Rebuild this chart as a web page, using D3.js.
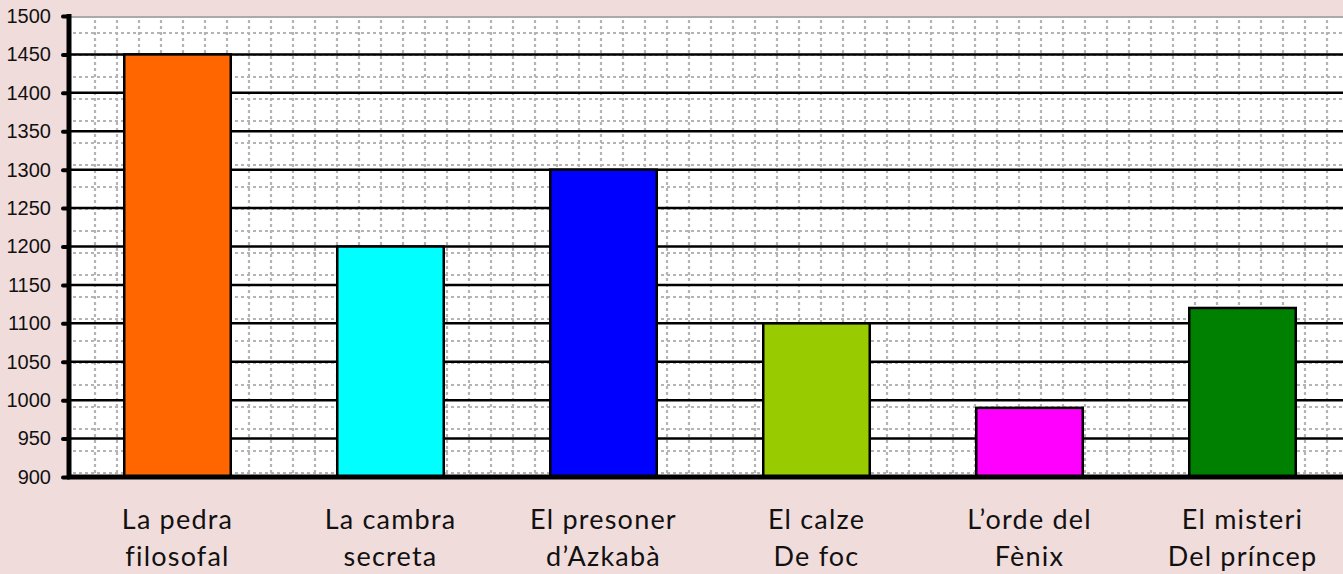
<!DOCTYPE html>
<html>
<head>
<meta charset="utf-8">
<title>harry-potter-bars</title>
<style>
body { margin: 0; background: #f1dcdc; }
.ytick text { font-family: "Liberation Sans", Arial, sans-serif; font-size: 20px; fill: #111; }
.cat { font-family: Lato, "Open Sans", sans-serif; font-size: 27px; letter-spacing: 1.2px; fill: #111; }
</style>
</head>
<body>
<script src="https://cdn.jsdelivr.net/npm/d3@7"></script>
<script>
// data
var titles = [["La pedra", "filosofal"], ["La cambra", "secreta"], ["El presoner", "d\u2019Azkab\u00e0"],
              ["El calze", "De foc"], ["L\u2019orde del", "F\u00e8nix"], ["El misteri", "Del pr\u00edncep"]];
var values = [1450, 1200, 1300, 1100, 990, 1120];
var colors = ["#ff6600", "#00ffff", "#0000ff", "#99cc00", "#ff00ff", "#008000"];
var yTicks = [900, 950, 1000, 1050, 1100, 1150, 1200, 1250, 1300, 1350, 1400, 1450, 1500];

var W = 1343, H = 574;
// plot box (note: "top" is taken by window.top, so use pTop)
var pLeft = 69, pRight = 1343, pTop = 16, pBottom = 477;

var svg = d3.select("body").append("svg")
    .attr("width", W).attr("height", H);

var x = d3.scaleBand()
    .domain(d3.range(titles.length))
    .range([pLeft + 2, pLeft + 2 + 6 * 213])
    .paddingInner(0.5).paddingOuter(0.25);

var y = d3.scaleLinear().domain([900, 1500]).range([pBottom, pTop]);

// plot background
svg.append("rect")
    .attr("x", pLeft).attr("y", pTop)
    .attr("width", pRight - pLeft).attr("height", pBottom - pTop)
    .attr("fill", "#fff");

// graph-paper minor grid (22px cells)
var minorX = d3.range(95, pRight, 22), minorY = d3.range(33, pBottom, 22);
svg.append("g").selectAll("line").data(minorX).enter().append("line")
    .attr("x1", function (d) { return d; }).attr("x2", function (d) { return d; })
    .attr("y1", pTop + 4).attr("y2", pBottom)
    .attr("stroke", "#b4b4b4").attr("stroke-width", 2.2).attr("stroke-dasharray", "3,3");
svg.append("g").selectAll("line").data(minorY).enter().append("line")
    .attr("x1", pLeft + 4).attr("x2", pRight)
    .attr("y1", function (d) { return d; }).attr("y2", function (d) { return d; })
    .attr("stroke", "#b4b4b4").attr("stroke-width", 2.2).attr("stroke-dasharray", "3,3");

// top border
svg.append("line")
    .attr("x1", pLeft).attr("x2", pRight).attr("y1", pTop + 1).attr("y2", pTop + 1)
    .attr("stroke", "#aaa").attr("stroke-width", 2);

// major grid lines
svg.append("g").selectAll("line").data(yTicks.slice(1, -1)).enter().append("line")
    .attr("x1", pLeft).attr("x2", pRight)
    .attr("y1", function (d) { return y(d); }).attr("y2", function (d) { return y(d); })
    .attr("stroke", "#000").attr("stroke-width", 2.5);

// bars
svg.append("g").selectAll("rect").data(values).enter().append("rect")
    .attr("x", function (d, i) { return x(i); })
    .attr("width", x.bandwidth())
    .attr("y", function (d) { return y(d); })
    .attr("height", function (d) { return pBottom - y(d); })
    .attr("fill", function (d, i) { return colors[i]; })
    .attr("stroke", "#000").attr("stroke-width", 2.5);

// y axis
var yAxis = svg.append("g")
    .attr("class", "ytick")
    .attr("transform", "translate(" + pLeft + ",0)")
    .call(d3.axisLeft(y).tickValues(yTicks).tickSize(6).tickPadding(12).tickFormat(d3.format("d")));
yAxis.attr("font-size", null).attr("font-family", null);
yAxis.select(".domain").remove();
yAxis.selectAll(".tick line").attr("stroke", "#000").attr("stroke-width", 4).attr("stroke-linecap", "round");
yAxis.append("line")
    .attr("x1", 0).attr("x2", 0).attr("y1", pTop - 2).attr("y2", pBottom + 2)
    .attr("stroke", "#000").attr("stroke-width", 5);

// x axis line
svg.append("line")
    .attr("x1", pLeft - 2).attr("x2", pRight).attr("y1", pBottom).attr("y2", pBottom)
    .attr("stroke", "#000").attr("stroke-width", 5);

// category labels, two lines each
var cats = svg.append("g").selectAll("text").data(titles).enter().append("text")
    .attr("class", "cat")
    .attr("text-anchor", "middle")
    .attr("x", function (d, i) { return x(i) + x.bandwidth() / 2; })
    .attr("y", 529);
cats.selectAll("tspan").data(function (d) { return d; }).enter().append("tspan")
    .attr("x", function () { return d3.select(this.parentNode).attr("x"); })
    .attr("dy", function (d, i) { return i ? 37 : 0; })
    .text(function (d) { return d; });
</script>
</body>
</html>
